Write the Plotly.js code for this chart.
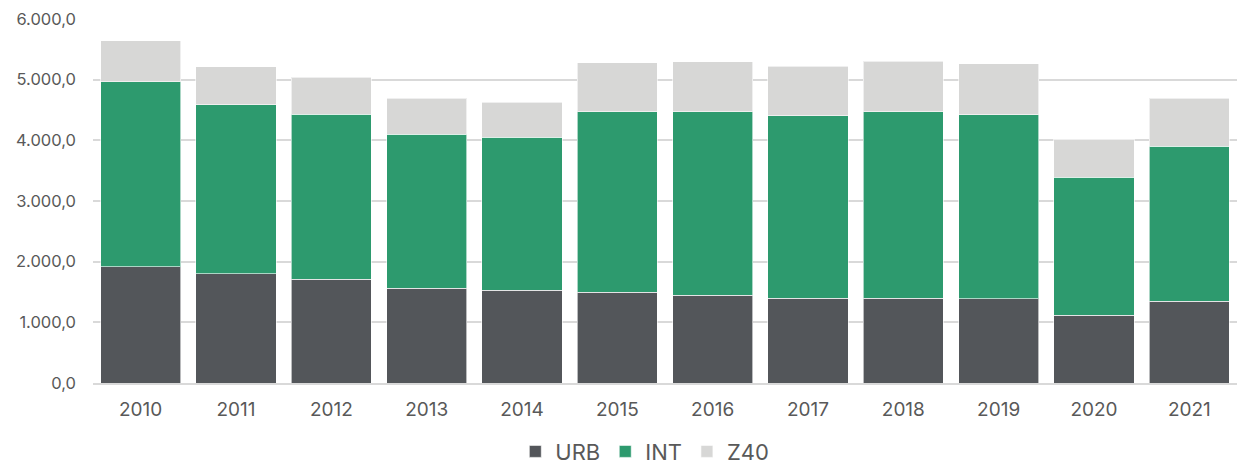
<!DOCTYPE html>
<html>
<head>
<meta charset="utf-8">
<script src="https://cdn.plot.ly/plotly-3.0.1.min.js"></script>
<style>html,body{margin:0;padding:0;background:#fff;}#chart{width:1240px;height:467px;}</style>
</head>
<body>
<div id="chart"></div>
<script>
const years = ["2010","2011","2012","2013","2014","2015","2016","2017","2018","2019","2020","2021"];
const urb = [1918,1802,1709,1565,1532,1499,1450,1400,1400,1385,1115,1346];
const int = [3049,2786,2719,2539,2517,2974,3023,3007,3073,3038,2280,2560];
const z40 = [675,626,616,593,577,807,824,814,830,836,621,791];
const yTicks = [0,1000,2000,3000,4000,5000,6000];

const lineStyle = {color:'rgba(255,255,255,0.6)', width:1};
const traces = [
  {type:'bar', name:'URB', x:years, y:urb, marker:{color:'#53565a', line:lineStyle}},
  {type:'bar', name:'INT', x:years, y:int, marker:{color:'#2d9a6e', line:lineStyle}},
  {type:'bar', name:'Z40', x:years, y:z40, marker:{color:'#d7d7d6', line:lineStyle}}
];
const layout = {
  width:1240, height:467,
  barmode:'stack', bargap:0.16,
  separators:',.',
  margin:{l:93, r:3, t:19, b:84, autoexpand:false},
  paper_bgcolor:'#fff', plot_bgcolor:'#fff',
  font:{family:'Inter, Roboto, sans-serif', color:'#595959', size:17},
  xaxis:{type:'category', automargin:false, showgrid:false, showline:true, linecolor:'#d9d9d9', linewidth:2, ticks:'', tickfont:{size:19}, ticklabelstandoff:8},
  yaxis:{range:[0,6000], automargin:false, tickvals:yTicks, tickformat:',.1f', showgrid:true, gridcolor:'#d9d9d9', gridwidth:2, zeroline:false, ticks:'', tickfont:{size:16.5}, ticklabelstandoff:16},
  showlegend:true,
  legend:{orientation:'h', x:0.52, xanchor:'center', xref:'container', yref:'container', y:0.033, yanchor:'middle', font:{size:22}, itemwidth:30, traceorder:'normal'}
};
Plotly.newPlot('chart', traces, layout, {displayModeBar:false, staticPlot:true});
</script>
</body>
</html>
